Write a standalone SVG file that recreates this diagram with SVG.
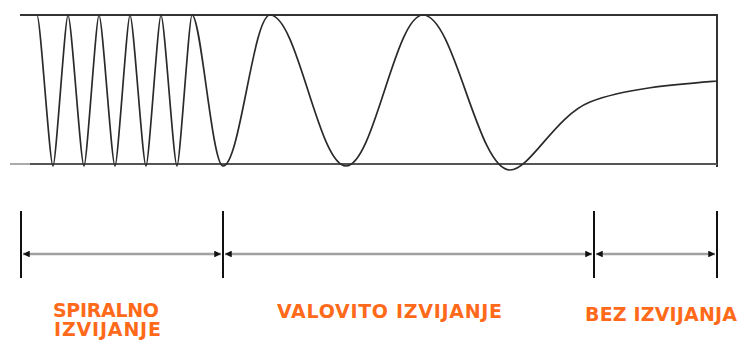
<svg xmlns="http://www.w3.org/2000/svg" width="742" height="340" viewBox="0 0 742 340">
<defs>
<marker id="ah" viewBox="0 0 10 10" refX="10" refY="5" markerWidth="2.6" markerHeight="2.6" orient="auto-start-reverse" markerUnits="strokeWidth">
<path d="M0,0 L10,5 L0,10 Z" fill="#111"/>
</marker>
</defs>
<style>
.frame{stroke:#333;stroke-width:2;fill:none}
.base{stroke:#555;stroke-width:2;fill:none}
.curve{stroke:#2a2a2a;stroke-width:1.7;fill:none}
.tick{stroke:#111;stroke-width:2}
.dim{stroke:#a0a0a0;stroke-width:2.6;fill:none;marker-start:url(#ah);marker-end:url(#ah)}
.lbl{font-family:"DejaVu Sans",Verdana,sans-serif;font-weight:bold;font-size:19px;fill:#FF6A1A}
</style>
<g id="frame">
<line class="frame" x1="20" y1="15" x2="717" y2="15"/>
<line class="frame" x1="717" y1="14" x2="717" y2="167"/>
<line stroke="#aaa" stroke-width="2" x1="10" y1="164" x2="30" y2="164"/>
<line class="base" x1="30" y1="164" x2="717" y2="164"/>
</g>
<g id="curve">
<path class="curve" d="M37,15 C40.5,15 49.5,166 53,166 C56,166 65,15 68,15 C71.5,15 80.5,166 84,166 C87,166 96,15 99,15 C102.5,15 111.5,166 115,166 C118,166 127,15 130,15 C133.5,15 142.5,166 146,166 C149,166 158,15 161,15 C164.5,15 173.5,166 177,166 C180,166 189,15 192,15 C201,15 212,166 223,166 C240,166 253,15 270,15 C297.7,15 318.3,166 346,166 C374,166 395,15 423,15 C455,15 477,170 510,170 C530,170 555,116 590,102 C625,88 680,84 717,81"/>
</g>
<g id="connectors">
<line class="tick" x1="21" y1="211" x2="21" y2="278"/>
<line class="tick" x1="223" y1="211" x2="223" y2="278"/>
<line class="tick" x1="594" y1="211" x2="594" y2="278"/>
<line class="tick" x1="717" y1="211" x2="717" y2="278"/>
<line class="dim" x1="23" y1="254" x2="221" y2="254"/>
<line class="dim" x1="225" y1="254" x2="592" y2="254"/>
<line class="dim" x1="596" y1="254" x2="715" y2="254"/>
</g>
<g id="label-spiralno">
<text class="lbl"><tspan x="53" y="317" textLength="106">SPIRALNO</tspan><tspan x="54" y="336" textLength="107">IZVIJANJE</tspan></text>
</g>
<g id="label-valovito">
<text class="lbl" x="277" y="318" textLength="225">VALOVITO IZVIJANJE</text>
</g>
<g id="label-bez">
<text class="lbl" x="585" y="320.5" textLength="152">BEZ IZVIJANJA</text>
</g>
</svg>
